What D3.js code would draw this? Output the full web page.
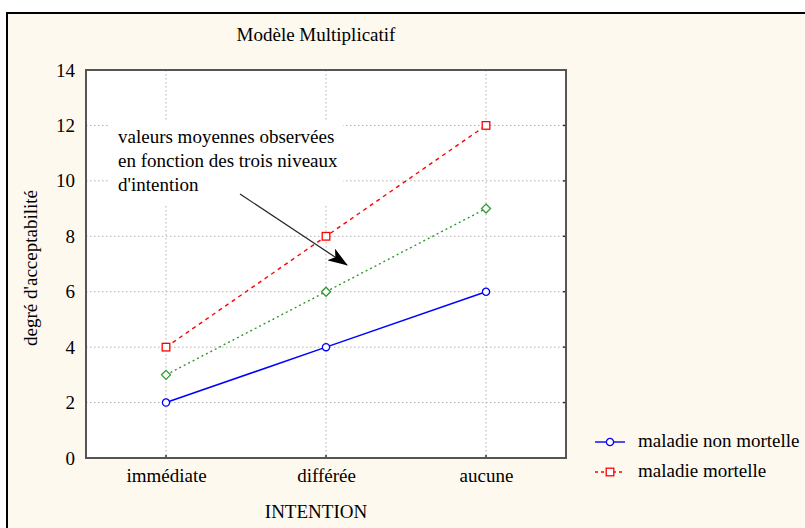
<!DOCTYPE html>
<html><head><meta charset="utf-8">
<script src="https://cdn.jsdelivr.net/npm/d3@7"></script>
<style>html,body{margin:0;padding:0;background:#fff;}svg{display:block;}</style>
</head><body>
<script>
const categories = ["immédiate", "différée", "aucune"];
const nonMortelle = [2, 4, 6];
const moyenne = [3, 6, 9];
const mortelle = [4, 8, 12];
const yTicks = [0, 2, 4, 6, 8, 10, 12, 14];
const legendLabels = ["maladie non mortelle", "maladie mortelle"];
const title = "Modèle Multiplicatif";
const xTitle = "INTENTION";
const yTitle = "degré d'acceptabilité";
const noteLines = ["valeurs moyennes observées", "en fonction des trois niveaux", "d'intention"];

const W = 805, H = 528;
const m = {left: 86, right: 566, top: 70, bottom: 458};
const font = "'Liberation Serif', 'Times New Roman', serif";
const fs = 19;

const svg = d3.select("body").append("svg").attr("width", W).attr("height", H);
svg.append("rect").attr("x", 7).attr("y", 13).attr("width", W).attr("height", H)
  .attr("fill", "#fef9ef").attr("stroke", "#000").attr("stroke-width", 2);

const x = d3.scalePoint().domain(categories).range([m.left, m.right]).padding(0.5);
const y = d3.scaleLinear().domain([0, 14]).range([m.bottom, m.top]);

svg.append("rect").attr("x", m.left).attr("y", m.top).attr("width", m.right - m.left)
  .attr("height", m.bottom - m.top).attr("fill", "#fff");

// grid
const g = svg.append("g");
g.selectAll(".hg").data(yTicks.filter(d => d > 0 && d < 14)).join("line")
  .attr("x1", m.left).attr("x2", m.right).attr("y1", d => y(d)).attr("y2", d => y(d))
  .attr("stroke", "#b0b0b0").attr("stroke-dasharray", "1.5,2.5");
g.selectAll(".vg").data(categories).join("line")
  .attr("x1", d => x(d)).attr("x2", d => x(d)).attr("y1", m.top).attr("y2", m.bottom)
  .attr("stroke", "#b0b0b0").attr("stroke-dasharray", "1.5,2.5");

// note box (white, hides grid)
svg.append("rect").attr("x", 109).attr("y", 121).attr("width", 234).attr("height", 83).attr("fill", "#fff");

// axes
const yAxis = d3.axisLeft(y).tickValues(yTicks).tickSize(0).tickPadding(11);
const ya = svg.append("g").attr("transform", `translate(${m.left},0)`).call(yAxis);
ya.select(".domain").remove();
ya.selectAll("text").attr("font-family", font).attr("font-size", fs).attr("fill", "#000");

const xAxis = d3.axisBottom(x).tickSize(0).tickPadding(11);
const xa = svg.append("g").attr("transform", `translate(0,${m.bottom})`).call(xAxis);
xa.select(".domain").remove();
xa.selectAll("text").attr("font-family", font).attr("font-size", fs).attr("fill", "#000");

// small inner ticks
svg.append("g").selectAll("line").data(categories).join("line")
  .attr("x1", d => x(d)).attr("x2", d => x(d)).attr("y1", m.bottom).attr("y2", m.bottom - 3)
  .attr("stroke", "#333").attr("stroke-width", 1.5);
svg.append("g").selectAll("line").data(yTicks).join("line")
  .attr("x1", m.right).attr("x2", m.right - 3).attr("y1", d => y(d)).attr("y2", d => y(d))
  .attr("stroke", "#333").attr("stroke-width", 1.5);

svg.append("rect").attr("x", m.left).attr("y", m.top).attr("width", m.right - m.left)
  .attr("height", m.bottom - m.top).attr("fill", "none").attr("stroke", "#555").attr("stroke-width", 2);

// series
const series = [
  {vals: mortelle, color: "#ff0000", dash: "4,4", marker: "square"},
  {vals: moyenne, color: "#2e9a2e", dash: "2,3", marker: "diamond"},
  {vals: nonMortelle, color: "#0000ff", dash: null, marker: "circle"}
];
const line = d3.line().x((d, i) => x(categories[i])).y(d => y(d));
function drawMarker(sel, type, color) {
  if (type === "circle") sel.append("circle").attr("r", 3.6);
  else if (type === "square") sel.append("rect").attr("x", -3.8).attr("y", -3.8).attr("width", 7.6).attr("height", 7.6);
  else sel.append("path").attr("d", "M0,-4.5L4.5,0L0,4.5L-4.5,0Z");
  sel.selectAll("*").attr("fill", "#fff").attr("stroke", color).attr("stroke-width", 1.3);
}
series.forEach(s => {
  svg.append("path").datum(s.vals).attr("d", line).attr("fill", "none")
    .attr("stroke", s.color).attr("stroke-width", s.marker === "circle" ? 1.5 : 1.4)
    .attr("stroke-dasharray", s.dash);
  s.vals.forEach((v, i) => {
    const mk = svg.append("g").attr("transform", `translate(${x(categories[i])},${y(v)})`);
    drawMarker(mk, s.marker, s.color);
  });
});

// note text
svg.append("g").selectAll("text").data(noteLines).join("text")
  .attr("x", 118).attr("y", (d, i) => 143 + i * 24)
  .attr("font-family", font).attr("font-size", fs).attr("fill", "#000").text(d => d);

// arrow
const defs = svg.append("defs");
defs.append("marker").attr("id", "ah").attr("viewBox", "0 0 20 14").attr("refX", 19).attr("refY", 7)
  .attr("markerWidth", 20).attr("markerHeight", 14).attr("markerUnits", "userSpaceOnUse").attr("orient", "auto")
  .append("path").attr("d", "M0,0L20,7L0,14L5,7Z").attr("fill", "#000");
svg.append("line").attr("x1", 240).attr("y1", 194).attr("x2", 347).attr("y2", 265)
  .attr("stroke", "#222").attr("stroke-width", 1.2).attr("marker-end", "url(#ah)");

// titles
svg.append("text").attr("x", 316).attr("y", 41).attr("text-anchor", "middle")
  .attr("font-family", font).attr("font-size", fs).text(title);
svg.append("text").attr("x", 316).attr("y", 518).attr("text-anchor", "middle")
  .attr("font-family", font).attr("font-size", fs).text(xTitle);
svg.append("text").attr("transform", "translate(37,268) rotate(-90)").attr("text-anchor", "middle")
  .attr("font-family", font).attr("font-size", fs).text(yTitle);

// legend
const leg = [
  {label: legendLabels[0], color: "#0000ff", dash: null, marker: "circle"},
  {label: legendLabels[1], color: "#ff0000", dash: "3,3", marker: "square"}
];
leg.forEach((l, i) => {
  const yy = 442 + i * 30;
  svg.append("line").attr("x1", 595).attr("x2", 625).attr("y1", yy).attr("y2", yy)
    .attr("stroke", l.color).attr("stroke-width", 1.4).attr("stroke-dasharray", l.dash);
  const mk = svg.append("g").attr("transform", `translate(610,${yy})`);
  drawMarker(mk, l.marker, l.color);
  svg.append("text").attr("x", 638).attr("y", yy + 5).attr("font-family", font).attr("font-size", fs).text(l.label);
});
</script>
</body></html>
